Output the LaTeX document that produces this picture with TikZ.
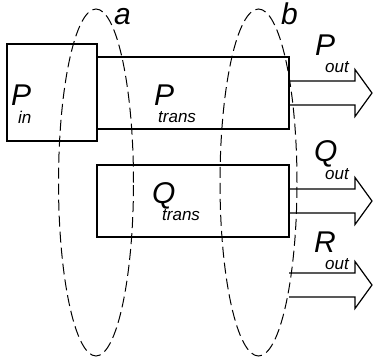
\documentclass[tikz,border=0pt]{standalone}
\usepackage{fontspec}
\setmainfont{Liberation Sans}
\usetikzlibrary{shapes.geometric,positioning}

\begin{document}
\begin{tikzpicture}[
    x=1pt, y=-1pt,
    box/.style={draw, line width=1.2pt, inner sep=0pt, outer sep=0pt},
    ring/.style={draw, ellipse, line width=1pt, dash pattern=on 11pt off 5pt, inner sep=0pt, minimum width=75pt, minimum height=347pt},
    big/.style={font=\fontsize{30}{30}\selectfont\itshape, inner sep=0pt, anchor=base west},
    sub/.style={font=\fontsize{17}{17}\selectfont\itshape, inner sep=0pt, anchor=base west},
    fat/.style={line width=1.2pt, line join=miter}
]
\useasboundingbox (0,0) rectangle (373,362);

% boxes
\node[box, minimum width=90pt, minimum height=97pt] (pin) at (52,92.5) {};
\node[box, minimum width=192pt, minimum height=72pt] (ptrans) at (193,93) {};
\node[box, minimum width=192pt, minimum height=72pt] (qtrans) at (193,201) {};
\coordinate (rstart) at (289,285);

% fat output arrows
\draw[fat] (ptrans.east) ++(0,-12) -- ++(66,0) -- ++(0,-11.5) -- ++(17,23.5) -- ++(-17,23.5) -- ++(0,-11.5) -- ++(-66,0);
\draw[fat] (qtrans.east) ++(0,-12) -- ++(66,0) -- ++(0,-11.5) -- ++(17,23.5) -- ++(-17,23.5) -- ++(0,-11.5) -- ++(-66,0);
\draw[fat] (rstart) ++(0,-12) -- ++(66,0) -- ++(0,-11.5) -- ++(17,23.5) -- ++(-17,23.5) -- ++(0,-11.5) -- ++(-66,0);

% cut surfaces
\node[ring] (ringa) at (96,182.5) {};
\node[ring, minimum width=77pt] (ringb) at (258.5,182.5) {};
\node[big] (alab) at (114,24) {a};
\node[big] (blab) at (281,24) {b};

% labels
\node[big] (pinlab) at (11,105) {P};
\node[sub] at (18,123) {in};
\node[big] (ptranslab) at (154,105) {P};
\node[sub] at (158,122) {trans};
\node[big] (qtranslab) at (152,203) {Q};
\node[sub] at (162,220) {trans};
\node[big] (poutlab) at (315,55) {P};
\node[sub] at (325,72) {out};
\node[big] (qoutlab) at (314,161) {Q};
\node[sub] at (325,179) {out};
\node[big] (routlab) at (314,252) {R};
\node[sub] at (325,269) {out};
\end{tikzpicture}
\end{document}
